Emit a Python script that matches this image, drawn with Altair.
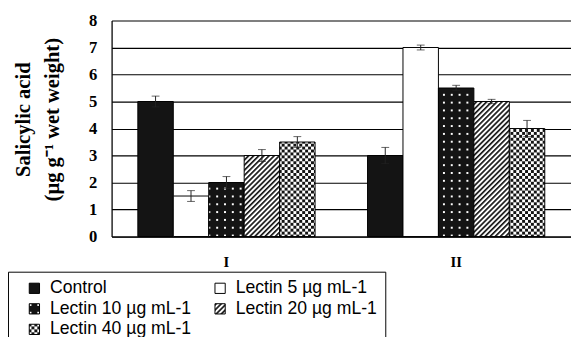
import altair as alt
import pandas as pd
import altair.utils.html as ah

# ---------------- data ----------------
groups = ["I", "II"]
treatments = ["Control", "Lectin 5 µg mL-1", "Lectin 10 µg mL-1",
              "Lectin 20 µg mL-1", "Lectin 40 µg mL-1"]
values_I = [5.0, 1.5, 2.0, 3.0, 3.5]
values_II = [3.0, 7.0, 5.5, 5.0, 4.0]
errors_I = [0.2, 0.2, 0.22, 0.22, 0.2]
errors_II = [0.3, 0.09, 0.1, 0.08, 0.3]
y_ticks = [0, 1, 2, 3, 4, 5, 6, 7, 8]

rows = []
for g, vals, errs in [("I", values_I, errors_I), ("II", values_II, errors_II)]:
    for t, v, e in zip(treatments, vals, errs):
        rows.append({"group": g, "treatment": t, "value": v,
                     "lo": v - e, "hi": v + e})
df = pd.DataFrame(rows)

# ---------------- fill patterns (SVG defs injected into the page) ----------------
DEFS = """
<svg width="0" height="0" style="position:absolute;left:0;top:0">
<defs>
<pattern id="pdots" patternUnits="userSpaceOnUse" width="8" height="8">
<rect width="8" height="8" fill="#141414"/><rect x="3" y="3" width="2" height="2" fill="#ffffff"/>
</pattern>
<pattern id="pdiag" patternUnits="userSpaceOnUse" width="3.7" height="3.7" patternTransform="rotate(45)">
<rect width="3.7" height="3.7" fill="#ffffff"/><rect width="1.7" height="3.7" fill="#141414"/>
</pattern>
<pattern id="pcheck" patternUnits="userSpaceOnUse" width="6" height="6">
<rect width="6" height="6" fill="#ffffff"/><rect width="3" height="3" fill="#141414"/>
<rect x="3" y="3" width="3" height="3" fill="#141414"/>
</pattern>
</defs>
</svg>
"""


class _Tpl:
    def __init__(self, t):
        self.t = t

    def render(self, *a, **kw):
        html = self.t.render(*a, **kw)
        return html.replace("<body>", "<body>" + DEFS, 1)


ah.TEMPLATES["standard"] = _Tpl(ah.TEMPLATES["standard"])

fills = ["#141414", "#ffffff", "url(#pdots)", "url(#pdiag)", "url(#pcheck)"]

SERIF = "Liberation Serif"
SANS = "Liberation Sans"

x_enc = alt.X(
    "group:N", sort=groups,
    scale=alt.Scale(paddingInner=0, paddingOuter=0),
    axis=alt.Axis(title=None, labelAngle=0, ticks=False, tickSize=0,
                  labelFont=SERIF, labelFontWeight="bold", labelFontSize=15,
                  labelColor="black", labelPadding=19, domainColor="black",
                  domainWidth=1.3),
)
xo_enc = alt.XOffset("treatment:N", sort=treatments,
                     scale=alt.Scale(paddingInner=0, paddingOuter=0.74))

y_axis = alt.Axis(
    values=y_ticks, ticks=False, tickSize=0, grid=True,
    gridColor="black", gridOpacity=1, gridWidth=1.2,
    domainColor="black", domainWidth=1.3,
    labelFont=SERIF, labelFontWeight="bold", labelFontSize=17,
    labelColor="black", labelPadding=15,
    title=["Salicylic acid", "(µg g⁻¹ wet weight)"],
    titleFont=SERIF, titleFontWeight="bold", titleFontSize=21,
    titleColor="black", titleLineHeight=30,
    titleX=-101, titleY=101, titleAngle=-90, titleAlign="center",
    titleBaseline="top",
)
y_scale = alt.Scale(domain=[0, 8])

bars = alt.Chart(df).mark_bar(stroke="black", strokeWidth=1).encode(
    x=x_enc,
    xOffset=xo_enc,
    y=alt.Y("value:Q", scale=y_scale, axis=y_axis),
    fill=alt.Fill(
        "treatment:N", sort=treatments,
        scale=alt.Scale(domain=treatments, range=fills),
        legend=alt.Legend(
            title=" ", titleOrient="left", titleFontSize=11, titlePadding=10,
            orient="none", legendX=-106, legendY=257, columns=2,
            direction="horizontal",
            symbolType="square", symbolSize=110, symbolStrokeColor="black",
            symbolStrokeWidth=1, symbolOpacity=1,
            labelFontSize=18, labelColor="black", labelOffset=7,
            labelFont=SANS, labelLimit=300,
            strokeColor="black", fillColor="white", padding=8,
            columnPadding=20, rowPadding=3,
        ),
    ),
)

rule = alt.Chart(df).mark_rule(color="#222", strokeWidth=1).encode(
    x=x_enc, xOffset=xo_enc,
    y=alt.Y("lo:Q", scale=y_scale, axis=y_axis), y2="hi:Q",
)
cap_lo = alt.Chart(df).mark_tick(color="#222", size=8, thickness=1).encode(
    x=x_enc, xOffset=xo_enc, y=alt.Y("lo:Q", scale=y_scale, axis=y_axis),
)
cap_hi = alt.Chart(df).mark_tick(color="#222", size=8, thickness=1).encode(
    x=x_enc, xOffset=xo_enc, y=alt.Y("hi:Q", scale=y_scale, axis=y_axis),
)

chart = alt.layer(bars, rule, cap_lo, cap_hi).properties(
    width=470, height=221,
    autosize=alt.AutoSizeParams(type="none"),
    padding={"left": 106, "top": 9, "right": 0, "bottom": 99},
    background="white",
).configure_view(stroke=None)

chart.save("out.html", embed_options={"renderer": "svg", "actions": False})
